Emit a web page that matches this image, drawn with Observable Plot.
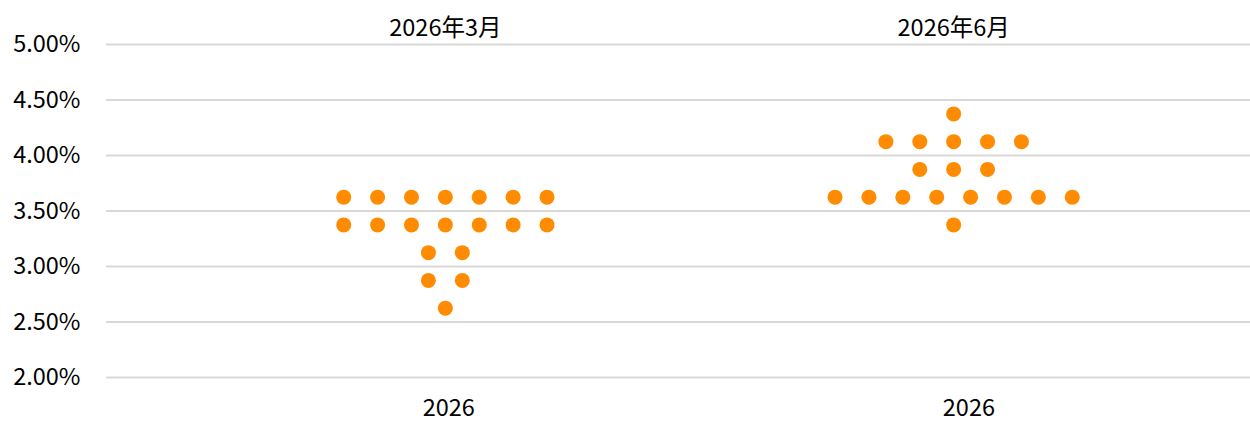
<!DOCTYPE html>
<html>
<head>
<meta charset="utf-8">
<script src="https://cdn.jsdelivr.net/npm/d3@7"></script>
<script src="https://cdn.jsdelivr.net/npm/@observablehq/plot@0.6"></script>
<style>
  html, body { margin: 0; padding: 0; background: #fff; }
  #chart svg { display: block; }
</style>
</head>
<body>
<div id="chart"></div>
<script>
// Periods (facet headers) and bottom category label
const periods = ["2026年3月", "2026年6月"];
const yearLabel = "2026";
// Dot-plot rows: rate (%) and number of participants at that rate
const marchRates  = [3.625, 3.375, 3.125, 2.875, 2.625];
const marchCounts = [7, 7, 2, 2, 1];
const juneRates   = [4.375, 4.125, 3.875, 3.625, 3.375];
const juneCounts  = [1, 5, 3, 8, 1];
// Y-axis tick values
const yTicks = [2.0, 2.5, 3.0, 3.5, 4.0, 4.5, 5.0];

// Group centres on the x scale (in dot-column units)
const groupCenters = [0, 15];
// Bottom category tick positions on the same scale
const yearTicks = [0.1, 15.45];

// Build dot table: dots in a row are centred on their group
function rows(rates, counts, g) {
  const out = [];
  rates.forEach((r, k) => {
    const n = counts[k];
    for (let i = 0; i < n; i++) {
      out.push({period: periods[g], rate: r, x: groupCenters[g] + i - (n - 1) / 2});
    }
  });
  return out;
}
const dots = [...rows(marchRates, marchCounts, 0), ...rows(juneRates, juneCounts, 1)];

const font = "'Noto Sans CJK SC', 'Noto Sans', sans-serif";
const fs = 23.5;

const chart = Plot.plot({
  width: 1250,
  height: 423,
  marginLeft: 106,
  marginRight: 0,
  marginTop: 44,
  marginBottom: 46,
  style: {fontFamily: font, fontSize: fs + "px", color: "#000", background: "#fff"},
  x: {domain: [-10, 23.76], axis: null},
  y: {domain: [2, 5], axis: null},
  marks: [
    Plot.gridY(yTicks, {stroke: "#d9d9d9", strokeOpacity: 1, strokeWidth: 2}),
    Plot.axisY(yTicks, {
      tickSize: 0, tickPadding: 26, textAnchor: "end", label: null,
      tickFormat: d => d.toFixed(2) + "%", fontSize: fs, fill: "#000"
    }),
    Plot.axisX(yearTicks, {
      anchor: "bottom", tickSize: 0, tickPadding: 22,
      tickFormat: () => yearLabel, fontSize: fs, fill: "#000", label: null
    }),
    Plot.axisX(groupCenters, {
      anchor: "top", tickSize: 0, tickPadding: 9,
      tickFormat: (d, i) => periods[i], fontSize: fs, fill: "#000", label: null
    }),
    Plot.dot(dots, {x: "x", y: "rate", r: 7.5, fill: "#FF8C00", stroke: "none"})
  ]
});
document.getElementById("chart").appendChild(chart);
</script>
</body>
</html>
